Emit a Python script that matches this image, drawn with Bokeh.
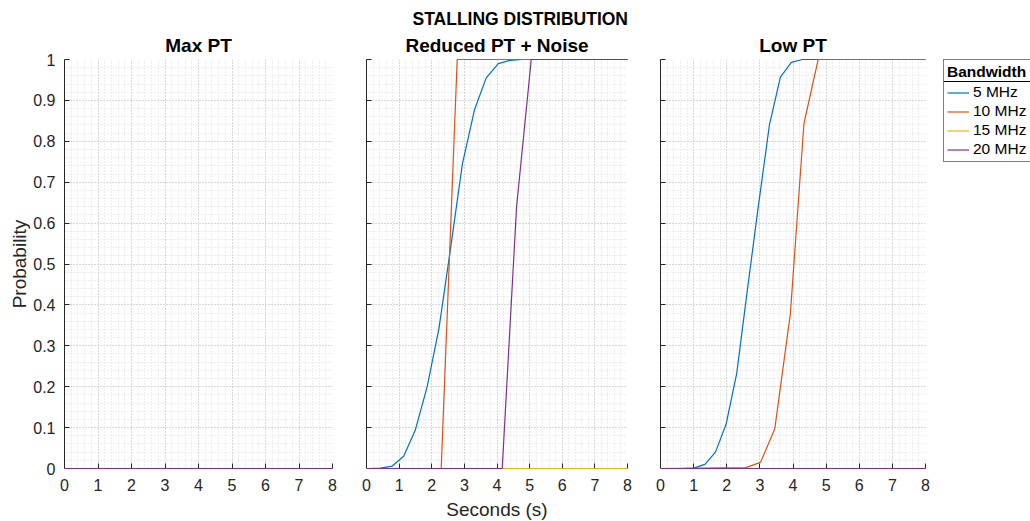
from bokeh.plotting import figure
from bokeh.layouts import row
from bokeh.models import Range1d, FixedTicker, Title, Legend, LegendItem, CustomJSTickFormatter
from bokeh.embed import file_html
from bokeh.resources import INLINE

FONT = "Liberation Sans"
TXT = "#262626"
NAN = float("nan")

# ---------------- data ----------------
suptitle = "STALLING DISTRIBUTION"
panel_titles = ["Max PT", "Reduced PT + Noise", "Low PT"]
series_names = ["5 MHz", "10 MHz", "15 MHz", "20 MHz"]
series_colors = ["#0072BD", "#D95319", "#EDB120", "#7E2F8E"]
legend_title = "Bandwidth"
x_label = "Seconds (s)"
y_label = "Probability"

x_ticks = [0, 1, 2, 3, 4, 5, 6, 7, 8]
x_tick_labels = ["0", "1", "2", "3", "4", "5", "6", "7", "8"]
y_ticks = [0, 0.1, 0.2, 0.3, 0.4, 0.5, 0.6, 0.7, 0.8, 0.9, 1.0]
y_tick_labels = ["0", "0.1", "0.2", "0.3", "0.4", "0.5", "0.6", "0.7", "0.8", "0.9", "1"]
x_minor_ticks = [i * 0.2 for i in range(41)]
y_minor_ticks = [i * 0.02 for i in range(51)]

# Max PT
maxpt_5_x = [0, 8]
maxpt_5_y = [0, 0]
maxpt_10_x = [0, 8]
maxpt_10_y = [0, 0]
maxpt_15_x = [0, 8]
maxpt_15_y = [0, 0]
maxpt_20_x = [0, 8]
maxpt_20_y = [0, 0]

# Reduced PT + Noise
red_5_x = [0, 0.07, 0.43, 0.79, 1.14, 1.50, 1.86, 2.22, 2.58, 2.94, 3.31, 3.67, 4.04, 4.40, 4.77, 8]
red_5_y = [0, 0, 0.001, 0.006, 0.03, 0.095, 0.2, 0.342, 0.54, 0.745, 0.877, 0.955, 0.99, 0.998, 1, 1]
red_10_x = [0, 2.29, 2.78, 8]
red_10_y = [0, 0, 1, 1]
red_15_x = [0, 8]
red_15_y = [0, 0]
red_20_x = [0, 4.16, 4.60, 5.05, 8]
red_20_y = [0, 0, 0.64, 1, 1]

# Low PT
low_5_x = [0, 0.67, 1.0, 1.34, 1.66, 1.98, 2.30, 2.62, 2.96, 3.29, 3.62, 3.95, 4.28, 8]
low_5_y = [0, 0, 0.001, 0.01, 0.04, 0.108, 0.232, 0.435, 0.645, 0.841, 0.957, 0.993, 1, 1]
low_10_x = [0, 2.57, 3.02, 3.45, 3.92, 4.33, 4.76, 8]
low_10_y = [0, 0.002, 0.015, 0.097, 0.378, 0.843, 1, 1]
low_15_x = [0, 8]
low_15_y = [0, 0]
low_20_x = [0, 8]
low_20_y = [0, 0]

panels = [
    [(maxpt_5_x, maxpt_5_y), (maxpt_10_x, maxpt_10_y), (maxpt_15_x, maxpt_15_y), (maxpt_20_x, maxpt_20_y)],
    [(red_5_x, red_5_y), (red_10_x, red_10_y), (red_15_x, red_15_y), (red_20_x, red_20_y)],
    [(low_5_x, low_5_y), (low_10_x, low_10_y), (low_15_x, low_15_y), (low_20_x, low_20_y)],
]

FRAME_H = 409
TOP = 59
BOTTOM = 53


def make_panel(idx, frame_w, left, right, show_ylabels, ylab=None, xlab=None, sup=None):
    p = figure(frame_width=frame_w, frame_height=FRAME_H,
               min_border_left=left, min_border_right=right,
               min_border_top=TOP, min_border_bottom=BOTTOM,
               x_range=Range1d(0, 8), y_range=Range1d(0, 1),
               toolbar_location=None, output_backend="svg")
    p.outline_line_color = None
    p.background_fill_color = "white"
    p.border_fill_color = "white"

    p.xaxis.ticker = FixedTicker(ticks=x_ticks, minor_ticks=x_minor_ticks)
    p.yaxis.ticker = FixedTicker(ticks=y_ticks, minor_ticks=y_minor_ticks)
    p.xaxis.major_label_overrides = {t: l for t, l in zip(x_ticks, x_tick_labels)}
    if show_ylabels:
        p.yaxis.major_label_overrides = {t: l for t, l in zip(y_ticks, y_tick_labels)}
        p.yaxis.major_label_standoff = 5
    else:
        p.yaxis.formatter = CustomJSTickFormatter(code="return ''")
        p.yaxis.major_label_standoff = 0

    for ax in (p.xaxis, p.yaxis):
        ax.axis_line_color = TXT
        ax.axis_line_width = 1
        ax.major_tick_line_color = TXT
        ax.major_tick_in = 5
        ax.major_tick_out = 0
        ax.minor_tick_line_color = None
        ax.major_label_text_font = FONT
        ax.major_label_text_font_size = "16px"
        ax.major_label_text_color = TXT
        ax.axis_label_text_font = FONT
        ax.axis_label_text_font_size = "19px"
        ax.axis_label_text_font_style = "normal"
        ax.axis_label_text_color = TXT
    p.xaxis.major_label_standoff = 6

    if ylab:
        p.yaxis.axis_label = ylab
        p.yaxis.axis_label_standoff = 0
    if xlab:
        p.xaxis.axis_label = xlab
        p.xaxis.axis_label_standoff = 5

    for g in (p.xgrid, p.ygrid):
        g.grid_line_color = "#c4c4c4"
        g.grid_line_dash = "1 2"
        g.grid_line_width = 1
        g.minor_grid_line_color = "#dcdcdc"
        g.minor_grid_line_dash = "1 2"
        g.minor_grid_line_width = 1

    for (xs, ys), c in zip(panels[idx], series_colors):
        r = p.line(xs, ys, line_color=c, line_width=1.2)
        r.level = "overlay"

    p.add_layout(Title(text=panel_titles[idx], align="center", text_font=FONT,
                       text_font_size="19px", text_font_style="bold",
                       text_color="#000000", standoff=7), "above")
    if sup:
        p.add_layout(Title(text=sup, align="left", offset=46, text_font=FONT,
                           text_font_size="17.5px", text_font_style="bold",
                           text_color="#000000", standoff=2), "above")
    return p


p1 = make_panel(0, 268, 64, 17, True, ylab=y_label)
p2 = make_panel(1, 261, 17, 16, False, xlab=x_label, sup=suptitle)
p3 = make_panel(2, 265, 17, 18, False)

# legend panel
p4 = figure(frame_width=87, frame_height=410, min_border_left=0, min_border_right=0,
            min_border_top=58, min_border_bottom=53,
            x_range=Range1d(0, 87), y_range=Range1d(410, 0),
            x_axis_type=None, y_axis_type=None,
            toolbar_location=None, output_backend="svg")
p4.outline_line_color = None
p4.xgrid.visible = False
p4.ygrid.visible = False
p4.segment(x0=[0], y0=[22], x1=[87], y1=[22], line_color="#000000", line_width=1)
items = []
for name, c in zip(series_names, series_colors):
    r = p4.line([NAN, NAN], [NAN, NAN], line_color=c, line_width=1.2)
    items.append(LegendItem(label=name, renderers=[r]))
leg = Legend(items=items, location="top_left", margin=0, padding=3,
             title=legend_title, title_text_font=FONT, title_text_font_size="15.5px",
             title_text_font_style="bold", title_text_color="#000000", title_standoff=2,
             label_text_font=FONT, label_text_font_size="15.5px", label_text_color="#000000",
             glyph_width=22, glyph_height=17, label_height=17, label_width=80,
             label_standoff=4, spacing=1,
             border_line_color="#000000", border_line_width=1,
             background_fill_alpha=0)
p4.add_layout(leg)

layout = row(p1, p2, p3, p4)
open("out.html", "w").write(file_html(layout, INLINE))
